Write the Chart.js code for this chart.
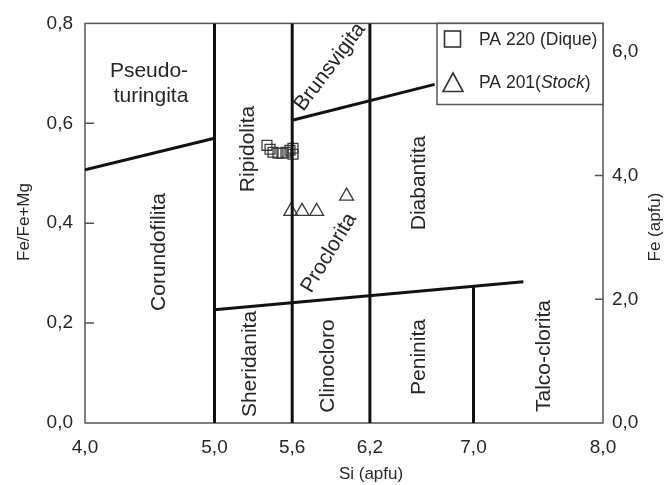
<!DOCTYPE html>
<html>
<head>
<meta charset="utf-8">
<script src="https://cdn.jsdelivr.net/npm/chart.js@4.4.1/dist/chart.umd.min.js"></script>
<style>
  html, body { margin: 0; padding: 0; background: #fff; }
  #wrap { width: 665px; height: 485px; position: relative; }
</style>
</head>
<body>
<div id="wrap"><canvas id="myChart"></canvas></div>
<script>
// tick values
const xTicks = [4.0, 5.0, 5.6, 6.2, 7.0, 8.0];
const yTicks = [0, 0.2, 0.4, 0.6, 0.8];
const feTicks = [0, 2, 4, 6];

// field boundaries (Si, Fe/Fe+Mg)
const line50 = [{x: 5.0, y: 0}, {x: 5.0, y: 0.8}];
const line56 = [{x: 5.6, y: 0}, {x: 5.6, y: 0.8}];
const line62 = [{x: 6.2, y: 0}, {x: 6.2, y: 0.8}];
const line70 = [{x: 7.0, y: 0}, {x: 7.0, y: 0.273}];
const lowerLine = [{x: 5.0, y: 0.2265}, {x: 7.385, y: 0.2826}];
const upperLeftLine = [{x: 4.0, y: 0.507}, {x: 5.0, y: 0.570}];
const upperRightLine = [{x: 5.6, y: 0.606}, {x: 6.70, y: 0.678}];

// samples
const pa220Si = [5.405, 5.429, 5.452, 5.490, 5.521, 5.552, 5.583, 5.606, 5.606];
const pa220Fe = [0.556, 0.548, 0.542, 0.540, 0.540, 0.542, 0.546, 0.550, 0.538];
const pa201Si = [5.589, 5.676, 5.789, 6.020];
const pa201Fe = [0.4236, 0.4236, 0.4236, 0.4543];

// field names: [text, x, y, angle in degrees]
const fieldNames = [
  ["Pseudo-", 149, 71, 0],
  ["turingita", 151, 96, 0],
  ["Corundofilita", 159, 252, -90],
  ["Ripidolita", 248, 149, -90],
  ["Brunsvigita", 330, 67, -53],
  ["Proclorita", 329, 253, -59],
  ["Diabantita", 419, 183, -90],
  ["Sheridanita", 250, 364, -90],
  ["Clinocloro", 328, 366, -90],
  ["Peninita", 419, 357, -90],
  ["Talco-clorita", 544, 356, -90]
];

const textColor = "#262626";
const fontFam = "'Liberation Sans', Arial, sans-serif";
const fmt = v => v.toFixed(1).replace(".", ",");

function pts(xs, ys) {
  return xs.map((x, i) => ({x: x, y: ys[i]}));
}

function boundary(data) {
  return {
    data: data,
    showLine: true,
    borderColor: "#111",
    borderWidth: 3,
    pointRadius: 0,
    fill: false,
    yAxisID: "y"
  };
}

const decorPlugin = {
  id: "decor",
  beforeDatasetsDraw(chart) {
    const ctx = chart.ctx;
    const a = chart.chartArea;
    const ys = chart.scales.y;
    const yr = chart.scales.y1;
    ctx.save();
    ctx.strokeStyle = "#555";
    ctx.lineWidth = 1.5;
    ctx.strokeRect(a.left, a.top, a.right - a.left, a.bottom - a.top);
    ctx.beginPath();
    [0.2, 0.4, 0.6].forEach(v => {
      const p = ys.getPixelForValue(v);
      ctx.moveTo(a.left, p);
      ctx.lineTo(a.left + 9, p);
    });
    [2, 4, 6].forEach(v => {
      const p = yr.getPixelForValue(v);
      ctx.moveTo(a.right, p);
      ctx.lineTo(a.right - 8, p);
    });
    ctx.stroke();

    ctx.fillStyle = textColor;
    ctx.font = "21px " + fontFam;
    ctx.textAlign = "center";
    ctx.textBaseline = "middle";
    fieldNames.forEach(f => {
      ctx.save();
      ctx.translate(f[1], f[2]);
      ctx.rotate(f[3] * Math.PI / 180);
      ctx.fillText(f[0], 0, 0);
      ctx.restore();
    });

    // axis titles
    ctx.font = "17px " + fontFam;
    ctx.fillText("Si (apfu)", 371, 474);
    ctx.save();
    ctx.translate(24, 222);
    ctx.rotate(-Math.PI / 2);
    ctx.fillText("Fe/Fe+Mg", 0, 0);
    ctx.restore();
    ctx.save();
    ctx.translate(655, 227);
    ctx.rotate(-Math.PI / 2);
    ctx.fillText("Fe (apfu)", 0, 0);
    ctx.restore();
    ctx.restore();
  },
  afterDraw(chart) {
    const ctx = chart.ctx;
    const a = chart.chartArea;
    const left = 437, top = a.top, right = a.right, bottom = 104.5;
    ctx.save();
    ctx.fillStyle = "#fff";
    ctx.fillRect(left, top, right - left, bottom - top);
    ctx.strokeStyle = "#555";
    ctx.lineWidth = 1.5;
    ctx.strokeRect(left, top, right - left, bottom - top);

    ctx.strokeStyle = "#333";
    ctx.lineWidth = 1.6;
    ctx.strokeRect(444.5, 31, 16, 16);
    ctx.beginPath();
    ctx.moveTo(453, 73);
    ctx.lineTo(463, 91.5);
    ctx.lineTo(443, 91.5);
    ctx.closePath();
    ctx.stroke();

    ctx.fillStyle = textColor;
    ctx.textBaseline = "middle";
    ctx.textAlign = "left";
    const f = "17.5px " + fontFam;
    ctx.font = f;
    ctx.fillText("PA 220 (Dique)", 479, 40);
    let x = 479;
    ctx.fillText("PA 201(", x, 83);
    x += ctx.measureText("PA 201(").width;
    ctx.font = "italic " + f;
    ctx.fillText("Stock", x, 83);
    x += ctx.measureText("Stock").width;
    ctx.font = f;
    ctx.fillText(")", x, 83);
    ctx.restore();
  }
};

const tickStyle = (pad) => ({
  padding: pad,
  color: textColor,
  font: { family: fontFam, size: 19 },
  callback: v => fmt(v)
});

const ctx = document.getElementById("myChart").getContext("2d");
const myChart = new Chart(ctx, {
  type: "scatter",
  data: {
    datasets: [
      boundary(line50),
      boundary(line56),
      boundary(line62),
      boundary(line70),
      boundary(lowerLine),
      boundary(upperLeftLine),
      boundary(upperRightLine),
      {
        label: "PA 220 (Dique)",
        data: pts(pa220Si, pa220Fe),
        pointStyle: "rect",
        pointRadius: 7,
        pointBorderColor: "#3a3a3a",
        pointBackgroundColor: "rgba(255,255,255,0)",
        pointBorderWidth: 1.3,
        yAxisID: "y"
      },
      {
        label: "PA 201(Stock)",
        data: pts(pa201Si, pa201Fe),
        pointStyle: "triangle",
        pointRadius: 8,
        pointBorderColor: "#3a3a3a",
        pointBackgroundColor: "rgba(255,255,255,0)",
        pointBorderWidth: 1.3,
        yAxisID: "y"
      }
    ]
  },
  options: {
    responsive: true,
    maintainAspectRatio: false,
    animation: false,
    layout: { padding: { top: 19, left: 0, right: 0, bottom: 0 } },
    plugins: {
      legend: { display: false },
      tooltip: { enabled: false }
    },
    scales: {
      x: {
        type: "linear",
        min: 4,
        max: 8,
        afterBuildTicks: s => { s.ticks = xTicks.map(v => ({value: v})); },
        afterFit: s => { s.height = 62; },
        grid: { display: false, drawTicks: false },
        border: { display: false },
        ticks: tickStyle(13)
      },
      y: {
        position: "left",
        min: 0,
        max: 0.8,
        afterBuildTicks: s => { s.ticks = yTicks.map(v => ({value: v})); },
        afterFit: s => { s.width = 85; },
        grid: { display: false, drawTicks: false },
        border: { display: false },
        ticks: tickStyle(12)
      },
      y1: {
        position: "right",
        min: 0,
        max: 6.46,
        afterBuildTicks: s => { s.ticks = feTicks.map(v => ({value: v})); },
        afterFit: s => { s.width = 62; },
        grid: { display: false, drawTicks: false },
        border: { display: false },
        ticks: tickStyle(9)
      }
    }
  },
  plugins: [decorPlugin]
});
</script>
</body>
</html>
